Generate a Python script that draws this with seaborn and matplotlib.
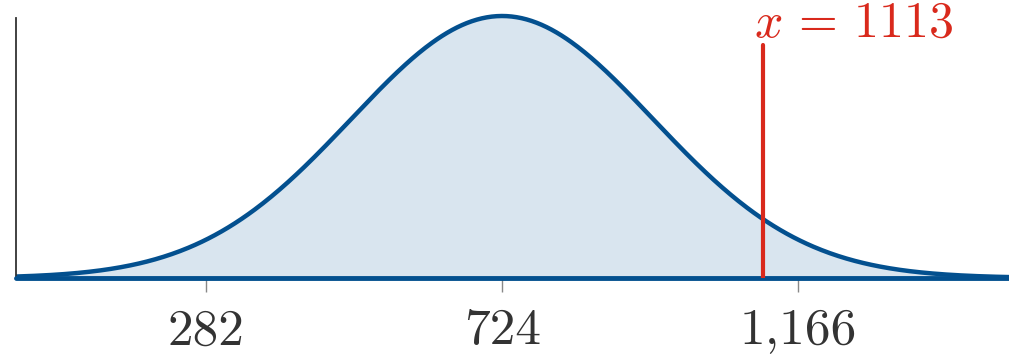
import numpy as np
import pandas as pd
import matplotlib
matplotlib.use("Agg")
import matplotlib.pyplot as plt
import seaborn as sns

# distribution parameters and marked value
mean = 724
sd = 225.5
x_mark = 1113
tick_values = [282, 724, 1166]
tick_labels = ["282", "724", "1,166"]
x_min, x_max = -2, 1481

sns.set_style("white")
plt.rcParams["mathtext.fontset"] = "cm"
plt.rcParams["font.family"] = ["cmr10", "DejaVu Serif"]
plt.rcParams["axes.formatter.use_mathtext"] = True

blue = "#03508f"
fill = "#d9e5ef"
red = "#d9291c"

# normal density curve
xs = np.linspace(x_min, x_max, 600)
pdf = np.exp(-0.5 * ((xs - mean) / sd) ** 2) / (sd * np.sqrt(2 * np.pi))
df = pd.DataFrame({"x": xs, "density": pdf})
peak = pdf.max()

fig = plt.figure(figsize=(10.09, 3.58), dpi=100)
ax = fig.add_axes([16 / 1009, 80 / 358, 993 / 1009, 278 / 358])

ax.fill_between(df.x, 0, df.density, color=fill, lw=0)
sns.lineplot(data=df, x="x", y="density", color=blue, lw=3.2, ax=ax)
ax.axhline(0, color=blue, lw=3.5, zorder=5, clip_on=False)

ytop = peak * 278 / (278 - 16)
ax.set_xlim(x_min, x_max)
ax.set_ylim(0, ytop)

# marked value
y_red = ytop * (278 - 45) / 278
ax.plot([x_mark, x_mark], [0, y_red], color=red, lw=3, zorder=6)
ax.annotate(r"$x\,=\,1113$", xy=(x_mark, y_red), xytext=(-9, 8),
            textcoords="offset pixels", ha="left", va="baseline",
            color=red, fontsize=36)

ax.set_xticks(tick_values)
ax.set_xticklabels(tick_labels, fontsize=37, color="#333333")
ax.set_yticks([])
ax.tick_params(axis="x", length=10, width=1, color="#888888", pad=12,
               bottom=True, direction="out")
ax.set_xlabel("")
ax.set_ylabel("")

for s in ["top", "right", "bottom"]:
    ax.spines[s].set_visible(False)
ax.spines["left"].set_color("#333333")
ax.spines["left"].set_linewidth(1.3)
ax.spines["left"].set_bounds(0, ytop * (278 - 18) / 278)

fig.savefig("out.png", dpi=100)
